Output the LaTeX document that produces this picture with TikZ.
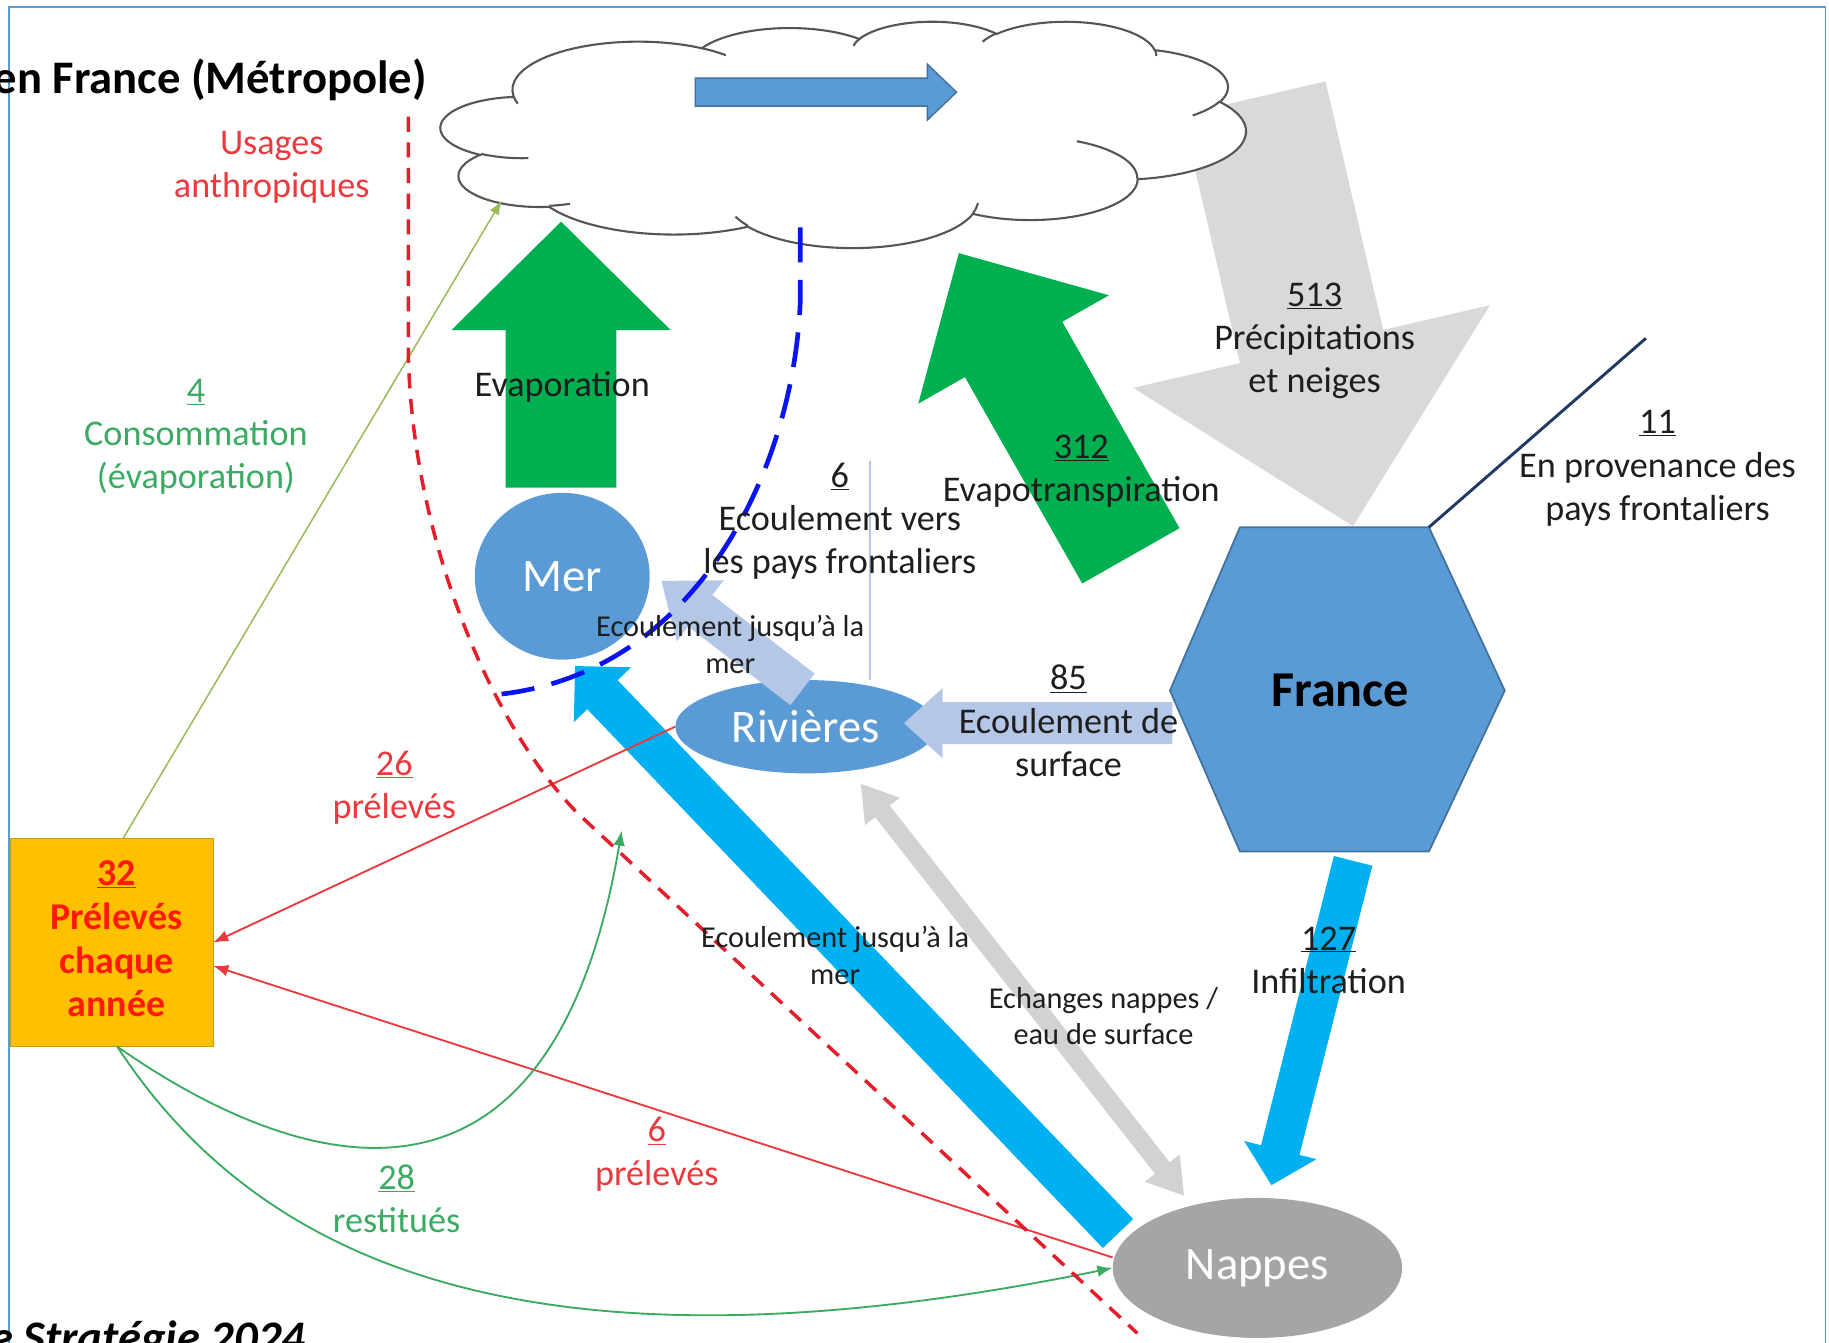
\documentclass[tikz,border=0pt]{standalone}
\usepackage{fontspec}
\setmainfont{Carlito}
\usetikzlibrary{calc,shapes.geometric,arrows.meta}

\definecolor{oblue}{HTML}{5B9BD5}
\definecolor{oblueedge}{HTML}{41719C}
\definecolor{skyflow}{HTML}{00B0F0}
\definecolor{leaf}{HTML}{00B050}
\definecolor{rain}{HTML}{D9D9D9}
\definecolor{swap}{HTML}{D2D2D2}
\definecolor{runoff}{HTML}{B4C7E7}
\definecolor{aquifer}{HTML}{A5A5A5}
\definecolor{amber}{HTML}{FFC000}
\definecolor{amberedge}{HTML}{C99A10}
\definecolor{usered}{HTML}{EA3A3E}
\definecolor{boxred}{HTML}{FF1A0A}
\definecolor{dashred}{HTML}{E41E2B}
\definecolor{usegreen}{HTML}{3BAA62}
\definecolor{olivegreen}{HTML}{9BBB59}
\definecolor{navy}{HTML}{1F3864}
\definecolor{seablue}{HTML}{0A14F0}
\definecolor{ink}{HTML}{1E1E1E}
\definecolor{cloudline}{HTML}{555555}

% block arrow: style, tail, tip, half shaft width, half head width, head length
\newcommand\blockarrow[6]{%
  \coordinate (ba-h) at ($#3!#6!#2$);
  \path[#1] ($#2!#4!90:#3$) -- ($(ba-h)!#4!90:#3$) -- ($(ba-h)!#5!90:#3$) -- #3
    -- ($(ba-h)!#5!-90:#3$) -- ($(ba-h)!#4!-90:#3$) -- ($#2!#4!-90:#3$) -- cycle;}

% double-headed block arrow: style, end a, end b, half shaft, half head, head length
\newcommand\twowayarrow[6]{%
  \coordinate (tw-a) at ($#2!#6!#3$);
  \coordinate (tw-b) at ($#3!#6!#2$);
  \path[#1] #2 -- ($(tw-a)!#5!90:#3$) -- ($(tw-a)!#4!90:#3$) -- ($(tw-b)!#4!-90:#2$)
    -- ($(tw-b)!#5!-90:#2$) -- #3 -- ($(tw-b)!#5!90:#2$) -- ($(tw-b)!#4!90:#2$)
    -- ($(tw-a)!#4!-90:#3$) -- ($(tw-a)!#5!-90:#3$) -- cycle;}

% elliptical arc given by radii and visual start/sweep angles
\newcommand\oarc[4]{arc[start angle={atan2((#1)*sin(#3),(#2)*cos(#3))},
  delta angle={mod(atan2((#1)*sin((#3)+(#4)),(#2)*cos((#3)+(#4)))-atan2((#1)*sin(#3),(#2)*cos(#3))+720,360)},
  x radius=#1, y radius=#2]}

\tikzset{
  lbl/.style={inner sep=0pt, align=center, text=ink, font=\fontsize{31}{37}\selectfont},
  smalllbl/.style={inner sep=0pt, align=center, text=ink, font=\fontsize{26}{31}\selectfont},
  water/.style={ellipse, fill=oblue, text=white, inner sep=0pt, font=\fontsize{40}{46}\selectfont},
  thinred/.style={draw=usered, line width=1.6pt, -{Latex[length=13pt,width=10pt]}},
  thingreen/.style={draw=usegreen, line width=1.6pt, -{Latex[length=13pt,width=10pt]}},
  cloudstroke/.style={draw=cloudline, line width=1.8pt},
}

\begin{document}
\begin{tikzpicture}[x=1pt, y=-1pt, line join=miter]
\useasboundingbox (0,0) rectangle (1568,1151);

% frame
\draw[oblue, line width=1.5pt] (8,1160) -- (8,6) -- (1565,6) -- (1565,1160);

% anchor points of the flows
\coordinate (prec-t) at (1075,84);   \coordinate (prec-h) at (1160,451);
\coordinate (evap-t) at (481,418);   \coordinate (evap-h) at (481,190);
\coordinate (etp-t) at (969.5,476.5); \coordinate (etp-h) at (822,217);
\coordinate (gw-t) at (958.5,1057.5); \coordinate (gw-h) at (493,571);
\coordinate (inf-t) at (1160,738);   \coordinate (inf-h) at (1090,1016);
\coordinate (xch-a) at (738,672);    \coordinate (xch-b) at (1015,1025);
\coordinate (rm-t) at (688,591);     \coordinate (rm-h) at (567,498);
\coordinate (surf-t) at (1005,620);  \coordinate (surf-h) at (775,620);
\coordinate (wind-t) at (596,79);    \coordinate (wind-h) at (820,79);

% precipitation (under the cloud)
\blockarrow{fill=rain}{(prec-t)}{(prec-h)}{63pt}{157pt}{158pt}

% cloud
\begin{scope}[shift={(378,18)}, x=0.15972pt, y=-0.044907pt]
  \coordinate (cloud) at (2160,2160);
  \path[cloudstroke, fill=white] (390,1437)
    \oarc{675.3}{919.0}{-190.48748}{123.78053}
    \oarc{533.3}{726.7}{-144.10238}{89.94523}
    \oarc{436.5}{594.5}{-145.80792}{99.72302}
    \oarc{485.7}{659.5}{-130.98607}{117.24173}
    \oarc{533.3}{727.3}{-78.70888}{109.02692}
    \oarc{677.5}{922.0}{-46.26725}{130.269}
    \oarc{578.5}{786.7}{0.62502}{114.03333}
    \oarc{675.2}{921.5}{22.4516}{115.17255}
    \oarc{772.0}{1054.3}{66.24263}{75.71102}
    \oarc{436.0}{591.8}{-274.94208}{146.73557}
    \oarc{434.5}{594.5}{-246.8285}{152.51885} -- cycle;
  \draw[cloudstroke]
    (469.3,2617.7) \oarc{434.5}{594.5}{86.742}{26.4295}
    (692.8,3489.9) \oarc{436.0}{591.8}{73.61047}{11.44747}
    (1647.8,3909.0) \oarc{675.2}{921.5}{137.62415}{14.0811}
    (2882.7,3475.1) \oarc{675.2}{921.5}{6.45327}{15.99835}
    (3412.9,2295.4) \oarc{578.5}{786.7}{-70.29235}{70.91737}
    (4179.8,1535.4) \oarc{533.3}{727.3}{30.31803}{27.7515}
    (3832.4,542.6) \oarc{485.7}{659.5}{-13.74433}{14.8589}
    (2907.8,395.2) \oarc{485.7}{659.5}{-149.18145}{18.19537}
    (2214.1,472.0) \oarc{436.5}{594.5}{-163.49427}{17.68635}
    (1400.0,519.2) \oarc{675.3}{919.0}{-66.70695}{12.31935}
    (412.7,1578.9) \oarc{675.3}{919.0}{157.65435}{11.85817};
\end{scope}
\blockarrow{fill=oblue, draw=oblueedge, line width=1.2pt}{(wind-t)}{(wind-h)}{12pt}{24pt}{25pt}

% evaporation and evapotranspiration
\blockarrow{fill=leaf}{(evap-t)}{(evap-h)}{47.5pt}{94pt}{93pt}
\blockarrow{fill=leaf}{(etp-t)}{(etp-h)}{48pt}{94pt}{95pt}

% water bodies
\node[water, minimum width=150, minimum height=143] (mer) at (482,494) {Mer};
\node[water, minimum width=224, minimum height=80] (riv) at (691,623) {Rivières};
\node[water, fill=aquifer, minimum width=248, minimum height=120] (nap) at (1078,1087) {Nappes};

\path[fill=oblue, draw=oblueedge, line width=1.5pt]
  (1063,452) coordinate (fr-nw) -- (1225,452) coordinate (fr-ne) -- (1290,592)
  -- (1225,730) -- (1063,730) -- (1003,592) -- cycle;
\node[inner sep=0pt, text=black, font=\bfseries\fontsize{43}{50}\selectfont] (fr) at (1149,592) {France};

% surface and ground flows
\blockarrow{fill=runoff}{(surf-t)}{(surf-h)}{18pt}{30pt}{33pt}
\blockarrow{fill=runoff}{(rm-t)}{(rm-h)}{17pt}{33pt}{42pt}
\blockarrow{fill=skyflow}{(gw-t)}{(gw-h)}{18pt}{34pt}{34pt}
\blockarrow{fill=skyflow}{(inf-t)}{(inf-h)}{17pt}{32pt}{31pt}
\twowayarrow{fill=swap}{(xch-a)}{(xch-b)}{8pt}{19pt}{30pt}

% border flows
\coordinate (nv-end) at (1411,290);
\draw[navy, line width=2.5pt] (fr-ne) -- (nv-end);
\coordinate (fv-top) at (746,395);
\coordinate (fv-bot) at (746,583);
\draw[runoff, line width=2pt] (fv-top) -- (fv-bot);

% withdrawals box
\node[draw=amberedge, fill=amber, minimum width=174, minimum height=178, inner sep=0pt]
      (box) at (95.5,808) {};
\node[inner sep=0pt, text=boxred, font=\bfseries\fontsize{32.5}{37.5}\selectfont, align=center]
      (boxtext) at (100,805) {\underline{32}\\Prélevés\\chaque\\année};

% human uses
\coordinate (cl-in) at (430,172);
\draw[olivegreen, line width=1.3pt, -{Latex[length=12pt,width=9pt]}] ([xshift=10pt]box.north) -- (cl-in);
\draw[thinred] (riv.west) -- (box.east);
\draw[thinred] ([yshift=9pt]nap.west) -- ([yshift=-20pt]box.east);
\coordinate (gc-end) at (533,712);
\draw[thingreen] ([xshift=5pt]box.south) .. controls (240,995) and (470,1085) .. (gc-end);
\draw[thingreen] ([xshift=5pt]box.south) .. controls (220,1080) and (450,1190) .. (nap.west);

% boundaries
\coordinate (us-top) at (350,100);
\coordinate (us-bot) at (975,1143);
\draw[dashred, line width=3pt, dash pattern=on 13pt off 9pt]
  (us-top) -- (350,300) .. controls (352,450) and (415,615) .. (495,697) -- (us-bot);
\coordinate (sea-top) at (686,195);
\coordinate (sea-end) at (430,595);
\draw[seablue, line width=4pt, dash pattern=on 30pt off 15pt]
  (sea-top) -- (686,260) .. controls (680,400) and (600,575) .. (sea-end);

% labels
\node[anchor=base east, inner sep=0pt, font=\bfseries\fontsize{40}{48}\selectfont] (title) at (366,80) {en France (Métropole)};
\node[anchor=base east, inner sep=0pt, font=\bfseries\itshape\fontsize{40}{48}\selectfont] (source) at (262,1160) {e Stratégie 2024};
\node[lbl, text=usered] (usages) at (233,143.5) {Usages\\anthropiques};
\node[lbl, text=usegreen] (conso) at (168,374.5) {\underline{4}\\Consommation\\(évaporation)};
\node[lbl] (evap) at (482,332) {Evaporation};
\node[lbl] (border) at (720,447) {\underline{6}\\Ecoulement vers\\les pays frontaliers};
\node[lbl] (etp) at (927,404) {\underline{312}\\Evapotranspiration};
\node[lbl] (prec) at (1127,292) {\underline{513}\\Précipitations\\et neiges};
\node[lbl] (inflow) at (1421,401.5) {\underline{11}\\En provenance des\\pays frontaliers};
\node[lbl] (surf) at (916,618) {\underline{85}\\Ecoulement de\\surface};
\node[lbl] (inf) at (1139,823) {\underline{127}\\Infiltration};
\node[smalllbl] (rm) at (626,552.5) {Ecoulement jusqu’à la\\mer};
\node[smalllbl] (gw) at (716,819) {Ecoulement jusqu’à la\\mer};
\node[smalllbl] (xch) at (946,871) {Echanges nappes /\\eau de surface};
\node[lbl, text=usered] (w26) at (338,675.5) {\underline{26}\\prélevés};
\node[lbl, text=usered] (w6) at (563,989.5) {\underline{6}\\prélevés};
\node[lbl, text=usegreen] (r28) at (340,1028) {\underline{28}\\restitués};
\end{tikzpicture}
\end{document}
